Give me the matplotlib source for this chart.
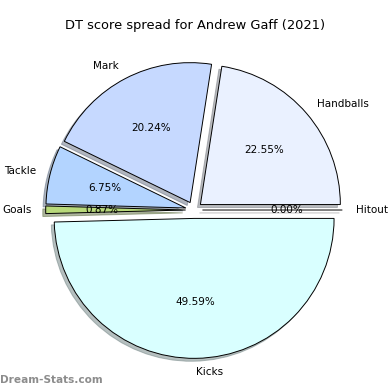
import matplotlib.pyplot as plt

## slice data
labels = ["Handballs", "Mark", "Tackle", "Goals", "Kicks", "Hitout"]
values = [22.55, 20.24, 6.75, 0.87, 49.59, 0.00]
colors = ["#eaf1ff", "#c6d9ff", "#b3d4ff", "#b8d97a", "#d9ffff", "#ffffff"]
explode = [0.06, 0.06, 0.06, 0.06, 0.06, 0.06]

fig = plt.figure(figsize=(3.9, 3.9), dpi=100)
ax = fig.add_axes([0.049, 0.013, 0.897, 0.897])
ax.pie(values, labels=labels, colors=colors, explode=explode,
       autopct="%1.2f%%", startangle=0,
       shadow={"ox": -0.015, "oy": -0.015, "shade": 0.5},
       wedgeprops={"edgecolor": "black", "linewidth": 0.7},
       textprops={"fontsize": 7.5})
ax.set_aspect("equal")
fig.text(0.5, 0.925, "DT score spread for Andrew Gaff (2021)", ha="center", fontsize=9.4)
fig.text(0.0, 0.017, "Dream-Stats.com", color="gray", fontsize=7.6, fontweight="bold", alpha=0.9)
fig.savefig("out.png", dpi=100)
